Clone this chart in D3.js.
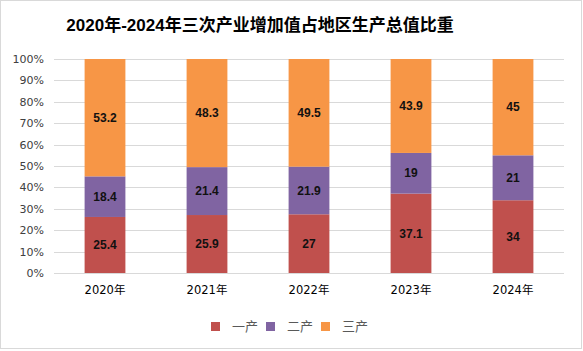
<!DOCTYPE html>
<html><head><meta charset="utf-8">
<script src="https://cdn.jsdelivr.net/npm/d3@7"></script>
<style>body{margin:0;background:#fff}svg{display:block}</style>
</head><body>
<svg id="c" width="583" height="351"></svg>
<script>
const years = ["2020年","2021年","2022年","2023年","2024年"];
const seriesNames = ["一产","二产","三产"];
const primary = [25.4, 25.9, 27, 37.1, 34];
const secondary = [18.4, 21.4, 21.9, 19, 21];
const tertiary = [53.2, 48.3, 49.5, 43.9, 45];
const yTicks = [0,0.1,0.2,0.3,0.4,0.5,0.6,0.7,0.8,0.9,1];
const colors = ["#C0504D","#8064A2","#F79646"];
const title = "2020年-2024年三次产业增加值占地区生产总值比重";

const rows = years.map((y,i)=>({year:y, "一产":primary[i], "二产":secondary[i], "三产":tertiary[i]}));
const svg = d3.select("#c");
svg.append("rect").attr("x",0.5).attr("y",0.5).attr("width",581).attr("height",348)
  .attr("fill","#fff").attr("stroke","#d9d9d9");

const x = d3.scaleBand().domain(years).range([54,564]).paddingInner(0.6).paddingOuter(0.3);
const y = d3.scaleLinear().domain([0,1]).range([273,59]);

svg.append("text").attr("x",260).attr("y",31).attr("text-anchor","middle")
  .attr("font-family","'Liberation Sans','Noto Sans CJK SC',sans-serif").attr("font-weight","bold")
  .attr("font-size",17).attr("fill","#000").text(title);

const grid = svg.append("g");
grid.selectAll("line").data(yTicks).join("line")
  .attr("x1",54).attr("x2",564).attr("y1",d=>Math.round(y(d))+0.5).attr("y2",d=>Math.round(y(d))+0.5)
  .attr("stroke","#d9d9d9").attr("stroke-width",1);

const yAxis = svg.append("g").attr("transform","translate(54,0)")
  .call(d3.axisLeft(y).tickValues(yTicks).tickFormat(d3.format(".0%")).tickSize(0).tickPadding(10));
yAxis.select(".domain").remove();
yAxis.selectAll("text").attr("font-family","'DejaVu Sans',sans-serif").attr("font-size",11).attr("fill","#404040");

const stack = d3.stack().keys(seriesNames).offset(d3.stackOffsetExpand);
const layers = stack(rows);
const lg = svg.selectAll("g.layer").data(layers).join("g").attr("class","layer").attr("fill",(d,i)=>colors[i]);
lg.selectAll("rect").data(d=>d).join("rect")
  .attr("x",d=>x(d.data.year)).attr("width",x.bandwidth())
  .attr("y",d=>y(d[1])).attr("height",d=>y(d[0])-y(d[1]));
const lab = svg.append("g");
layers.forEach(L=>{
  lab.selectAll(null).data(L).join("text")
    .attr("x",d=>x(d.data.year)+x.bandwidth()/2).attr("y",d=>(y(d[0])+y(d[1]))/2)
    .attr("dy","0.35em").attr("text-anchor","middle")
    .attr("font-family","'Liberation Sans',sans-serif").attr("font-weight","bold").attr("font-size",12)
    .attr("fill","#111").text(d=>d.data[L.key]);
});

const xAxis = svg.append("g").attr("transform","translate(0,273)")
  .call(d3.axisBottom(x).tickSize(0).tickPadding(13));
xAxis.select(".domain").attr("stroke","#d9d9d9").attr("d","M54,0.5H564");
xAxis.selectAll("text").attr("font-family","'DejaVu Sans','Noto Sans CJK SC',sans-serif").attr("font-size",11.5).attr("fill","#000");

const leg = svg.append("g");
const lx = [211,266,321];
seriesNames.forEach((n,i)=>{
  leg.append("rect").attr("x",lx[i]).attr("y",322).attr("width",9).attr("height",9).attr("fill",colors[i]);
  leg.append("text").attr("x",lx[i]+21).attr("y",330.5).attr("font-family","'Noto Sans CJK SC',sans-serif")
    .attr("font-size",13).attr("fill","#595959").text(n);
});
</script>
</body></html>
